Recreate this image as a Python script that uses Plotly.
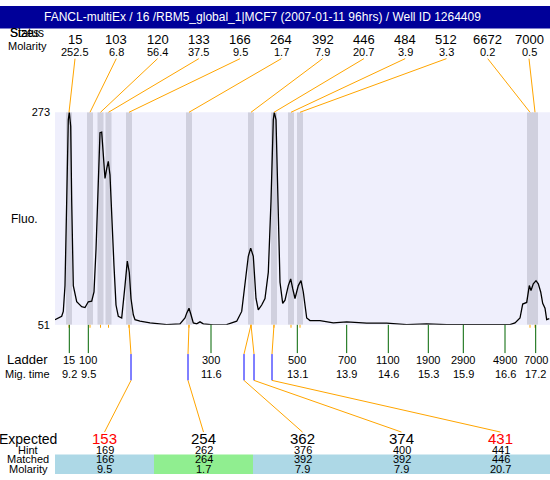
import plotly.graph_objects as go

W, H = 550, 480
TITLE = "FANCL-multiEx / 16 /RBM5_global_1|MCF7 (2007-01-11 96hrs) / Well ID 1264409"

# Detected peaks
peak_sizes = [15, 103, 120, 133, 166, 264, 392, 446, 484, 512, 6672, 7000]
peak_molarity = [252.5, 6.8, 56.4, 37.5, 9.5, 1.7, 7.9, 20.7, 3.9, 3.3, 0.2, 0.5]
peak_pos = [69, 90, 100.5, 108.5, 129, 189, 251, 274, 291, 300, 530, 535]

# Ladder
ladder_sizes = [15, 100, 300, 500, 700, 1100, 1900, 2900, 4900, 7000]
ladder_migtime = [9.2, 9.5, 11.6, 13.1, 13.9, 14.6, 15.3, 15.9, 16.6, 17.2]
ladder_pos = [69.3, 88.3, 211, 297.3, 346.7, 388.3, 428.3, 463.3, 505, 535.7]

# Expected products
expected = [153, 254, 362, 374, 431]
expected_found = [False, True, True, True, False]
hint = [169, 262, 376, 400, 441]
matched = [166, 264, 392, 392, 446]
matched_molarity = [9.5, 1.7, 7.9, 7.9, 20.7]
matched_exact = [False, True, False, False, False]

# Electropherogram trace
trace_pos = [55, 61.7, 63.3, 65, 66.7, 68.3, 69.3, 70.7, 71.7, 73.3, 76.7, 81.7, 85, 88.3, 91.7,
             94, 96, 98.3, 100, 101.7, 103.3, 105, 106.7, 108.3, 110, 111.7, 114, 116, 118.3,
             121.7, 123.3, 125, 127.3, 129.3, 131, 133.3, 135, 140, 150, 166.7, 180, 185, 186.7,
             189, 191, 193.3, 196.7, 200, 203.3, 213.3, 226.7, 236.7, 241.7, 245, 248.3, 250.7,
             253.3, 256, 258.3, 261.7, 265, 268.3, 271, 273.3, 274.3, 276, 277.7, 280, 282.7,
             285, 288.3, 290.7, 292.7, 295, 298.3, 301, 303.3, 306.7, 310, 320, 333.3, 346.7,
             366.7, 386.7, 406.7, 426.7, 446.7, 463.3, 480, 503.3, 510, 515, 520, 522.7, 526.7,
             529.3, 531, 533.3, 536, 538.3, 540.7, 542.7, 545, 546.7, 549.3]
trace_fluo = [56.4, 59.9, 65.0, 92.0, 180.3, 265.2, 273.0, 258.4, 180.3, 92.0, 75.1, 70.0, 69.0, 75.1, 75.7,
              85.3, 129.4, 197.3, 251.6, 252.3, 224.4, 204.0, 214.2, 221.8, 207.5, 163.3, 112.4, 71.7, 59.9,
              58.1, 71.7, 92.0, 117.5, 105.7, 78.5, 61.5, 56.4, 54.8, 53.0, 51.3, 52.0, 58.1, 63.2,
              68.3, 61.5, 53.0, 52.0, 54.1, 52.0, 51.0, 51.3, 54.8, 65.0, 92.0, 122.6, 131.1,
              122.6, 78.5, 66.6, 71.7, 78.5, 105.7, 180.3, 265.2, 273.0, 265.2, 180.3, 95.5, 73.4,
              76.8, 92.0, 98.9, 88.7, 78.5, 92.0, 97.1, 85.3, 58.1, 55.4, 55.4, 53.0, 54.1,
              52.7, 52.7, 51.3, 52.0, 51.3, 51.0, 51.2, 51.2, 51.2, 53.0, 58.1, 72.7, 74.4,
              92.0, 86.9, 93.8, 97.1, 93.8, 85.3, 73.4, 68.3, 56.4, 57.4]

Y_MIN, Y_MAX = 51, 273

# ---- layout constants (pixels) ----
PLOT_L, PLOT_TOP, PLOT_BOT = 55, 109, 327
FONT = "Liberation Sans, Arial, sans-serif"
ORANGE = "#FFA500"
BAND = "rgb(208,208,222)"
PLOT_BG = "rgb(239,239,252)"


def py(p):
    return 1 - p / H


fig = go.Figure()
fig.add_trace(go.Scatter(x=trace_pos, y=trace_fluo, mode="lines",
                         line=dict(color="black", width=1.3), hoverinfo="skip",
                         showlegend=False, cliponaxis=True))

shapes = []
ann = []

# header band
shapes.append(dict(type="rect", xref="paper", yref="paper", x0=0, x1=1, y0=py(23), y1=1,
                   fillcolor="#000099", line=dict(width=0), layer="below"))
ann.append(dict(text=TITLE, x=262 / W, y=py(11), xref="paper", yref="paper", showarrow=False,
                font=dict(family=FONT, size=12, color="white"), xanchor="center", yanchor="middle"))

# peak bands
for p in peak_pos:
    shapes.append(dict(type="rect", xref="x", yref="y", x0=p - 3, x1=p + 3, y0=Y_MIN, y1=Y_MAX,
                       fillcolor=BAND, line=dict(width=0), layer="below"))

# top labels + connectors
n = len(peak_sizes)
for i, (s, m, p) in enumerate(zip(peak_sizes, peak_molarity, peak_pos)):
    lx = 75 + i * (529 - 75) / (n - 1)
    ann.append(dict(text=str(s), x=lx, y=py(34), xref="x", yref="paper", showarrow=False,
                    font=dict(family=FONT, size=13, color="black"), xanchor="center", yanchor="middle"))
    ann.append(dict(text=str(m), x=lx, y=py(47), xref="x", yref="paper", showarrow=False,
                    font=dict(family=FONT, size=11, color="black"), xanchor="center", yanchor="middle"))
    shapes.append(dict(type="line", xref="x", yref="paper", x0=lx, y0=py(54), x1=p, y1=py(PLOT_TOP),
                       line=dict(color=ORANGE, width=1)))
    shapes.append(dict(type="line", xref="x", yref="paper", x0=p, y0=py(PLOT_BOT), x1=p, y1=py(PLOT_BOT + 3),
                       line=dict(color=ORANGE, width=1)))

for t, yy in (("Status", 28), ("Sizes", 28)):
    ann.append(dict(text=t, x=8 / W, y=py(yy), xref="paper", yref="paper", showarrow=False,
                    font=dict(family=FONT, size=12, color="black"), xanchor="left", yanchor="middle"))
ann.append(dict(text="Molarity", x=27 / W, y=py(41), xref="paper", yref="paper", showarrow=False,
                font=dict(family=FONT, size=11, color="black"), xanchor="center", yanchor="middle"))

# Fluo label
ann.append(dict(text="Fluo.", x=24 / W, y=py(218), xref="paper", yref="paper", showarrow=False,
                font=dict(family=FONT, size=12, color="black"), xanchor="center", yanchor="middle"))

# ladder
for s, t, p in zip(ladder_sizes, ladder_migtime, ladder_pos):
    shapes.append(dict(type="line", xref="x", yref="paper", x0=p, y0=py(PLOT_BOT), x1=p, y1=py(356),
                       line=dict(color="#006400", width=1)))
    ann.append(dict(text=str(s), x=p, y=py(363), xref="x", yref="paper", showarrow=False,
                    font=dict(family=FONT, size=11, color="black"), xanchor="center", yanchor="middle"))
    ann.append(dict(text=str(t), x=p, y=py(377), xref="x", yref="paper", showarrow=False,
                    font=dict(family=FONT, size=11, color="black"), xanchor="center", yanchor="middle"))
ann.append(dict(text="Ladder", x=27 / W, y=py(363), xref="paper", yref="paper", showarrow=False,
                font=dict(family=FONT, size=13, color="black"), xanchor="center", yanchor="middle"))
ann.append(dict(text="Mig. time", x=27 / W, y=py(377), xref="paper", yref="paper", showarrow=False,
                font=dict(family=FONT, size=11, color="black"), xanchor="center", yanchor="middle"))

# expected table
CELL_W = (W - PLOT_L) / len(expected)
link_offsets = [2, -1, -7, 3, -2]
for j, (e, ok, h, mt, mm, ex) in enumerate(zip(expected, expected_found, hint, matched,
                                                matched_molarity, matched_exact)):
    cx = PLOT_L + CELL_W * (j + 0.5)
    shapes.append(dict(type="rect", xref="x", yref="paper", x0=PLOT_L + CELL_W * j,
                       x1=PLOT_L + CELL_W * (j + 1), y0=py(480), y1=py(460),
                       fillcolor="#90EE90" if ex else "#ADD8E6", line=dict(width=0), layer="below"))
    ann.append(dict(text=str(e), x=cx, y=py(444), xref="x", yref="paper", showarrow=False,
                    font=dict(family=FONT, size=15, color="black" if ok else "red"),
                    xanchor="center", yanchor="middle"))
    for val, yy in ((h, 455), (mt, 465), (mm, 475)):
        ann.append(dict(text=str(val), x=cx, y=py(yy), xref="x", yref="paper", showarrow=False,
                        font=dict(family=FONT, size=11, color="black"), xanchor="center", yanchor="middle"))
    p = peak_pos[peak_sizes.index(mt)]
    bx = p + link_offsets[j]
    shapes.append(dict(type="line", xref="x", yref="paper", x0=p, y0=py(PLOT_BOT), x1=bx, y1=py(357),
                       line=dict(color=ORANGE, width=1)))
    shapes.append(dict(type="line", xref="x", yref="paper", x0=bx, y0=py(357), x1=bx, y1=py(384),
                       line=dict(color="#0000FF", width=1)))
    shapes.append(dict(type="line", xref="x", yref="paper", x0=bx, y0=py(384), x1=cx, y1=py(437),
                       line=dict(color=ORANGE, width=1)))

for t, yy, sz in (("Expected", 444, 14), ("Hint", 455, 11), ("Matched", 465, 11), ("Molarity", 475, 11)):
    ann.append(dict(text=t, x=28 / W, y=py(yy), xref="paper", yref="paper", showarrow=False,
                    font=dict(family=FONT, size=sz, color="black"), xanchor="center", yanchor="middle"))

fig.update_layout(
    width=W, height=H, margin=dict(l=0, r=0, t=0, b=0),
    paper_bgcolor="white", plot_bgcolor=PLOT_BG,
    xaxis=dict(range=[PLOT_L, W], domain=[PLOT_L / W, 1], visible=False, fixedrange=True),
    yaxis=dict(range=[Y_MIN, Y_MAX], domain=[1 - PLOT_BOT / H, 1 - PLOT_TOP / H],
               tickvals=[Y_MIN, Y_MAX], ticktext=[str(Y_MIN), str(Y_MAX)],
               showgrid=False, zeroline=False, showline=False, ticks="",
               tickfont=dict(family=FONT, size=11, color="black"), ticklabelstandoff=4,
               fixedrange=True),
    shapes=shapes, annotations=ann, showlegend=False,
)

fig.write_html("out.html", config={"displayModeBar": False},
               post_script="document.body.style.margin='0';document.body.style.overflow='hidden';")
